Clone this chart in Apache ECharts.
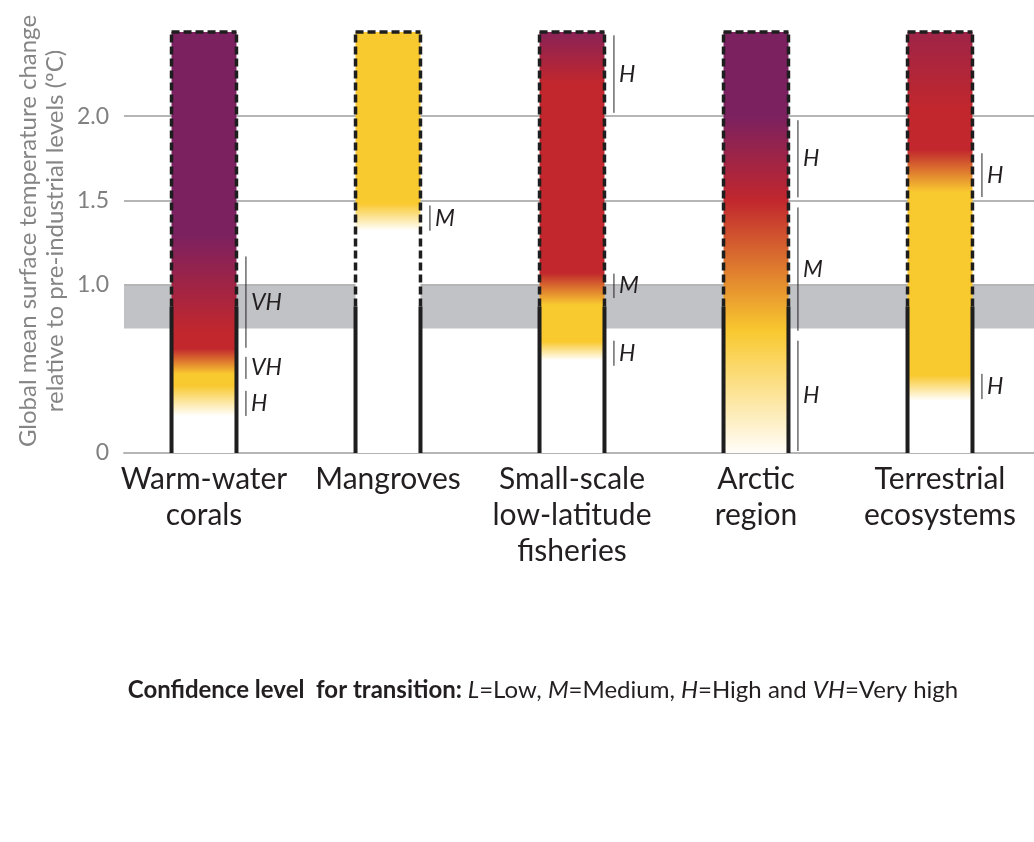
<!DOCTYPE html>
<html>
<head>
<meta charset="utf-8">
<script src="https://cdn.jsdelivr.net/npm/echarts@6/dist/echarts.min.js"></script>
<style>
html,body{margin:0;padding:0;background:#fff;}
#chart{width:1034px;height:842px;}
</style>
</head>
<body>
<div id="chart"></div>
<script>
// ---------------- data ----------------
const categories = ['Warm-water\ncorals', 'Mangroves', 'Small-scale\nlow-latitude\nfisheries', 'Arctic\nregion', 'Terrestrial\necosystems'];
const yTicks = [0, 1.0, 1.5, 2.0];
const barTop = 2.5;              // assessed range top (°C)
const presentWarming = 0.87;     // solid outline ends here
const presentBand = [0.74, 1.0]; // grey band
// risk level transitions per category: [temperature, level] (0 undetectable, 1 moderate, 2 high, 3 very high)
const riskCorals      = [[0.22, 0], [0.40, 1], [0.47, 1], [0.62, 2], [0.72, 2], [1.30, 3], [2.5, 3]];
const riskMangroves   = [[1.32, 0], [1.48, 1], [2.5, 1]];
const riskFisheries   = [[0.55, 0], [0.66, 1], [0.88, 1], [1.07, 2], [2.20, 2], [2.5, 2.8]];
const riskArctic      = [[0.0, 0.03], [0.72, 1], [1.50, 2], [2.00, 3], [2.5, 3]];
const riskTerrestrial = [[0.31, 0], [0.46, 1], [1.55, 1], [1.80, 2], [2.05, 2], [2.5, 2.5]];
const riskLevels = [riskCorals, riskMangroves, riskFisheries, riskArctic, riskTerrestrial];
// confidence brackets: [category index, low, high, label]
const confidence = [
  [0, 0.625, 1.167, 'VH'], [0, 0.44, 0.571, 'VH'], [0, 0.22, 0.369, 'H'],
  [1, 1.32, 1.47, 'M'],
  [2, 2.02, 2.48, 'H'], [2, 0.92, 1.065, 'M'], [2, 0.518, 0.667, 'H'],
  [3, 1.518, 1.976, 'H'], [3, 0.726, 1.458, 'M'], [3, 0.012, 0.667, 'H'],
  [4, 1.52, 1.78, 'H'], [4, 0.32, 0.47, 'H']
];

// ---------------- styles ----------------
const levelColors = [[255,255,255],[249,201,48],[193,39,45],[123,33,96]];
function levelColor(l){
  const i = Math.max(0, Math.min(2, Math.floor(l)));
  const t = Math.max(0, Math.min(1, l - i));
  const a = levelColors[i], b = levelColors[i+1];
  const c = a.map((v,k)=>Math.round(v + (b[k]-v)*t));
  return 'rgb(' + c.join(',') + ')';
}
const FONT = 'Lato, "Open Sans", sans-serif';
const INK = '#231f20';
const BAR_FRAC = 0.353;
const CONF_FRAC = 0.228;

const chart = echarts.init(document.getElementById('chart'), null, {renderer:'canvas'});

const option = {
  animation: false,
  backgroundColor: '#ffffff',
  textStyle: {fontFamily: FONT},
  grid: [
    {left: 124, right: 0, top: 32, bottom: 389},
    {left: 112, right: 2, top: 32, bottom: 389}
  ],
  xAxis: [
    {gridIndex: 0, type: 'value', min: 0, max: 1, show: true,
     axisLine: {show: true, lineStyle: {color: '#b5b5b5', width: 2}},
     axisTick: {show: false}, axisLabel: {show: false}, splitLine: {show: false}},
    {gridIndex: 1, type: 'category', data: categories,
     axisLine: {show: false}, axisTick: {show: false},
     axisLabel: {interval: 0, color: INK, fontSize: 30, lineHeight: 36, margin: 8, fontFamily: FONT}}
  ],
  yAxis: [
    {gridIndex: 0, type: 'value', min: 0, max: barTop, interval: 0.5,
     axisLine: {show: false}, axisTick: {show: false}, splitLine: {show: false},
     axisLabel: {color: '#808080', fontSize: 23, margin: 15, fontFamily: FONT,
       formatter: v => yTicks.indexOf(v) < 0 ? '' : (v === 0 ? '0' : v.toFixed(1))}},
    {gridIndex: 1, type: 'value', min: 0, max: barTop, show: false}
  ],
  graphic: [
    {type: 'text', x: 42, y: 231, rotation: Math.PI/2,
     style: {text: 'Global mean surface temperature change\nrelative to pre-industrial levels (ºC)',
       fill: '#858585', font: '24px ' + FONT, lineHeight: 27,
       align: 'center', verticalAlign: 'middle', textAlign: 'center', textVerticalAlign: 'middle'}},
    {type: 'text', x: 543, y: 690,
     style: {text: '{b|Confidence level  for transition: }{i|L}{n|=Low, }{i|M}{n|=Medium, }{i|H}{n|=High and }{i|VH}{n|=Very high}',
       align: 'center', verticalAlign: 'middle', textAlign: 'center', textVerticalAlign: 'middle',
       rich: {
         b: {fontWeight: 'bold', fontSize: 24, fill: INK, color: INK, fontFamily: FONT},
         i: {fontStyle: 'italic', fontSize: 24, fill: INK, color: INK, fontFamily: FONT},
         n: {fontSize: 24, fill: INK, color: INK, fontFamily: FONT}
       }}}
  ],
  series: [
    {type: 'line', xAxisIndex: 0, yAxisIndex: 0, data: [], silent: true, z: 1,
     markArea: {silent: true, itemStyle: {color: '#c1c2c5'}, data: [[{yAxis: presentBand[0]}, {yAxis: presentBand[1]}]]}},
    {type: 'line', xAxisIndex: 0, yAxisIndex: 0, data: [], silent: true, z: 2,
     markLine: {silent: true, symbol: 'none', label: {show: false},
       lineStyle: {color: '#b5b5b5', width: 2, type: 'solid'},
       data: yTicks.filter(v => v > 0).map(v => ({yAxis: v}))}},
    {type: 'custom', xAxisIndex: 1, yAxisIndex: 1, z: 5, silent: true,
     data: categories.map((c, i) => [i, barTop]),
     renderItem: function(params, api){
       const i = api.value(0);
       const bw = api.size([1, 0])[0] * BAR_FRAC;
       const p0 = api.coord([i, 0]);
       const pTop = api.coord([i, api.value(1)]);
       const pSolid = api.coord([i, presentWarming]);
       const xl = p0[0] - bw/2, xr = p0[0] + bw/2;
       const stops = riskLevels[i].map(s => ({offset: s[0] / barTop, color: levelColor(s[1])}));
       const grad = new echarts.graphic.LinearGradient(0, 1, 0, 0, stops);
       const solid = {stroke: '#1e1e1e', lineWidth: 4};
       const dashed = {stroke: '#1e1e1e', lineWidth: 3.5, lineDash: [8, 4]};
       return {type: 'group', children: [
         {type: 'rect', shape: {x: xl, y: pTop[1], width: bw, height: p0[1] - pTop[1]}, style: {fill: grad}},
         {type: 'line', shape: {x1: xl, y1: p0[1], x2: xl, y2: pSolid[1]}, style: solid},
         {type: 'line', shape: {x1: xr, y1: p0[1], x2: xr, y2: pSolid[1]}, style: solid},
         {type: 'line', shape: {x1: xl, y1: pSolid[1], x2: xl, y2: pTop[1]}, style: dashed},
         {type: 'line', shape: {x1: xr, y1: pSolid[1], x2: xr, y2: pTop[1]}, style: dashed},
         {type: 'line', shape: {x1: xl, y1: pTop[1], x2: xr, y2: pTop[1]}, style: dashed}
       ]};
     }},
    {type: 'custom', xAxisIndex: 1, yAxisIndex: 1, z: 6, silent: true,
     data: confidence,
     renderItem: function(params, api){
       const i = api.value(0);
       const off = api.size([1, 0])[0] * CONF_FRAC;
       const pLo = api.coord([i, api.value(1)]);
       const pHi = api.coord([i, api.value(2)]);
       const x = pLo[0] + off;
       const label = confidence[params.dataIndex][3];
       return {type: 'group', children: [
         {type: 'line', shape: {x1: x, y1: pLo[1], x2: x, y2: pHi[1]}, style: {stroke: INK, lineWidth: 1}},
         {type: 'text', x: x + 5, y: (pLo[1] + pHi[1]) / 2,
          style: {text: label, fill: INK, font: 'italic 23px ' + FONT,
                  align: 'left', verticalAlign: 'middle', textAlign: 'left', textVerticalAlign: 'middle'}}
       ]};
     }}
  ]
};
chart.setOption(option);
</script>
</body>
</html>
